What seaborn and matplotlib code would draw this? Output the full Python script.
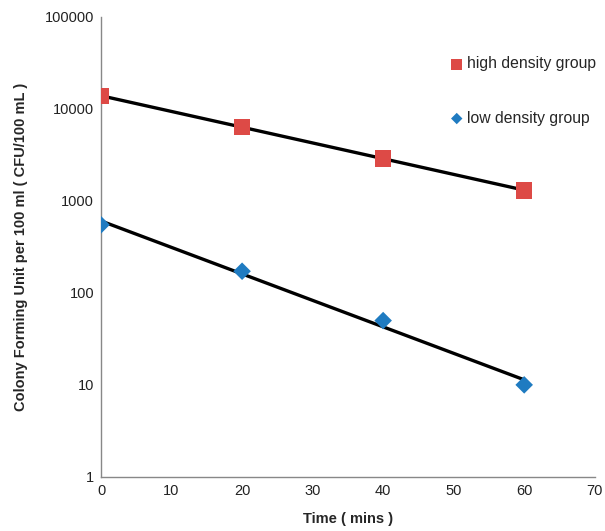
import numpy as np
import pandas as pd
import matplotlib
matplotlib.use("Agg")
import matplotlib.pyplot as plt
import seaborn as sns

# values
time_min = [0, 20, 40, 60]
high_density = [13800, 6400, 2900, 1300]
low_density = [550, 172, 50, 10]

df = pd.DataFrame({
    "time": time_min * 2,
    "cfu": high_density + low_density,
    "group": ["high density group"] * 4 + ["low density group"] * 4,
})

sns.set_theme(style="white")
plt.rcParams["font.family"] = ["Liberation Sans", "DejaVu Sans"]

red = "#DD4A46"
blue = "#1F7BC1"

fig = plt.figure(figsize=(6.05, 5.31), dpi=100)
ax = fig.add_axes([0.167, 0.102, 0.816, 0.866])

# exponential trendlines (fit on log scale, like Excel)
for vals in (high_density, low_density):
    k, b = np.polyfit(time_min, np.log(vals), 1)
    xs = np.array([time_min[0], time_min[-1]])
    ax.plot(xs, np.exp(b + k * xs), color="black", lw=2.4, zorder=2)

sns.scatterplot(data=df[df.group == "high density group"], x="time", y="cfu",
                marker="s", s=140, color=red, edgecolor="none",
                label="high density group", ax=ax, zorder=3)
sns.scatterplot(data=df[df.group == "low density group"], x="time", y="cfu",
                marker="D", s=80, color=blue, edgecolor="none",
                label="low density group", ax=ax, zorder=3)

ax.set_yscale("log")
ax.set_ylim(1, 100000)
ax.set_xlim(0, 70)
ax.set_xticks(range(0, 71, 10))
ax.set_yticks([1, 10, 100, 1000, 10000, 100000])
ax.set_yticklabels(["1", "10", "100", "1000", "10000", "100000"])
ax.minorticks_off()
ax.tick_params(axis="both", length=0, labelsize=10.5, colors="#222222", pad=5)

for side in ("top", "right"):
    ax.spines[side].set_visible(False)
for side in ("left", "bottom"):
    ax.spines[side].set_color("#888888")
    ax.spines[side].set_linewidth(1.0)

ax.set_xlabel("Time ( mins )", fontsize=10.5, fontweight="bold", labelpad=10)
ax.set_ylabel("Colony Forming Unit per 100 ml ( CFU/100 mL )",
              fontsize=10.5, fontweight="bold", labelpad=12)

leg = ax.legend(loc="upper left", bbox_to_anchor=(0.676, 0.945), frameon=False,
                fontsize=11.3, labelspacing=2.5, handletextpad=0.15,
                markerscale=0.65, handlelength=1.0)

plt.savefig("out.png", dpi=100)
plt.close()
